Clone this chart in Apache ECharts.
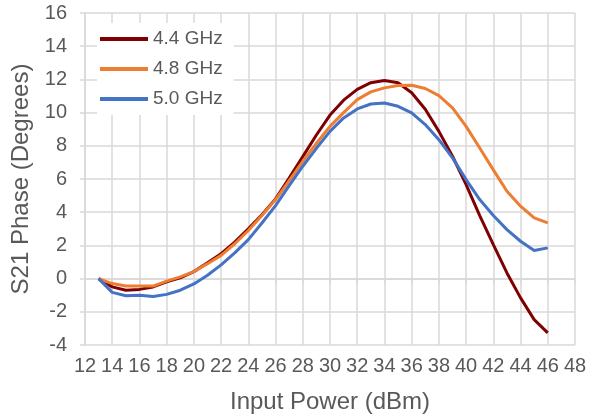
<!DOCTYPE html>
<html>
<head>
<meta charset="utf-8">
<script src="https://cdn.jsdelivr.net/npm/echarts@6/dist/echarts.min.js"></script>
<style>
html,body{margin:0;padding:0;background:#fff;}
#c{width:598px;height:419px;}
</style>
</head>
<body>
<div id="c"></div>
<script>
const inputPower = [13,14,15,16,17,18,19,20,21,22,23,24,25,26,27,28,29,30,31,32,33,34,35,36,37,38,39,40,41,42,43,44,45,46];
const phase44 = [0,-0.5,-0.7,-0.65,-0.5,-0.2,0.05,0.42,0.95,1.5,2.2,3.0,3.85,4.8,6.05,7.35,8.65,9.85,10.75,11.4,11.8,11.93,11.8,11.2,10.2,8.87,7.37,5.66,3.8,2.05,0.34,-1.16,-2.47,-3.27];
const phase48 = [0,-0.3,-0.45,-0.45,-0.45,-0.15,0.1,0.42,0.9,1.4,2.1,2.9,3.8,4.76,5.9,7.07,8.15,9.17,10.0,10.78,11.25,11.49,11.63,11.65,11.45,11.02,10.28,9.17,7.87,6.55,5.26,4.36,3.66,3.36];
const phase50 = [0,-0.83,-1.03,-1.0,-1.08,-0.95,-0.7,-0.32,0.2,0.83,1.55,2.35,3.35,4.4,5.6,6.77,7.85,8.87,9.68,10.22,10.52,10.58,10.38,9.98,9.28,8.37,7.27,5.96,4.76,3.8,2.95,2.25,1.69,1.85];
const seriesNames = ['4.4 GHz','4.8 GHz','5.0 GHz'];
const seriesColors = ['#7f0000','#ed7d31','#4472c4'];

const pair = arr => inputPower.map((x,i)=>[x,arr[i]]);
const datasets = [phase44, phase48, phase50];
const gridColor = '#d9d9d9';
const textColor = '#595959';
const font = '"Liberation Sans", Arial, sans-serif';

const chart = echarts.init(document.getElementById('c'), null, {renderer:'canvas'});
chart.setOption({
  animation:false,
  backgroundColor:'#fff',
  grid:{left:85, right:23, top:13, bottom:74, containLabel:false},
  legend:{
    orient:'vertical', left:97, top:23, padding:[6,11,6,3],
    backgroundColor:'#fff',
    itemWidth:48, itemHeight:4, itemGap:10, icon:'rect',
    textStyle:{color:textColor, fontSize:19, fontFamily:font, lineHeight:20},
    data:seriesNames
  },
  xAxis:{
    type:'value', min:12, max:48, interval:2,
    name:'Input Power (dBm)', nameLocation:'middle', nameGap:45,
    nameTextStyle:{color:textColor, fontSize:24, fontFamily:font},
    axisLine:{show:true, lineStyle:{color:gridColor, width:1.5}},
    axisTick:{show:true, length:5, lineStyle:{color:gridColor, width:1.5}},
    axisLabel:{color:textColor, fontSize:20, fontFamily:font, margin:11},
    splitLine:{show:true, lineStyle:{color:gridColor, width:1.5}}
  },
  yAxis:{
    type:'value', min:-4, max:16, interval:2,
    name:'S21 Phase (Degrees)', nameLocation:'middle', nameGap:48,
    nameTextStyle:{color:textColor, fontSize:24, fontFamily:font},
    axisLine:{show:true, lineStyle:{color:gridColor, width:1.5}},
    axisTick:{show:true, length:5, lineStyle:{color:gridColor, width:1.5}},
    axisLabel:{color:textColor, fontSize:20, fontFamily:font, margin:18},
    splitLine:{show:true, lineStyle:{color:gridColor, width:1.5}}
  },
  series: datasets.map((d,i)=>({
    name:seriesNames[i], type:'line', data:pair(d),
    symbol:'none', smooth:false,
    lineStyle:{color:seriesColors[i], width:3},
    itemStyle:{color:seriesColors[i]}
  }))
});
</script>
</body>
</html>
